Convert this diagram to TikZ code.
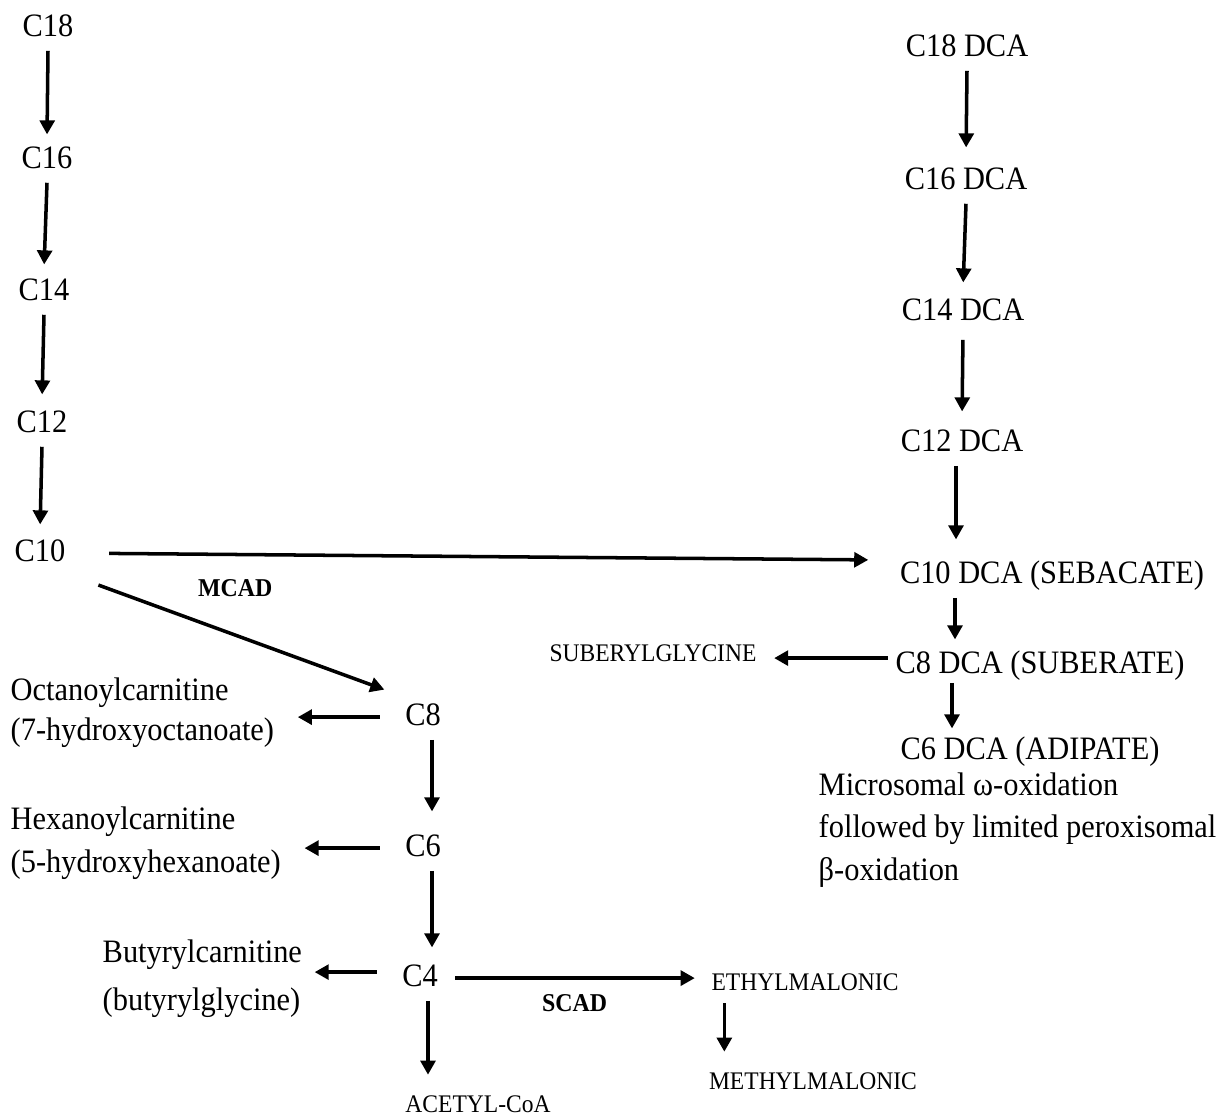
\documentclass[tikz,border=0pt]{standalone}
\usepackage{fontspec}
\setmainfont[FakeStretch=0.93]{Liberation Serif}
\usetikzlibrary{arrows.meta, calc}

\begin{document}
\begin{tikzpicture}[
    acid/.style={anchor=base, inner sep=2pt, text height=6.5pt, text depth=2pt, font=\fontsize{9.3}{11}\selectfont},
    product/.style={anchor=base, inner sep=2pt, text height=5pt, text depth=1.5pt, font=\fontsize{7.2}{8}\selectfont},
    enzyme/.style={inner sep=1pt, font=\fontsize{7.3}{8}\selectfont\bfseries},
    side/.style={anchor=north west, inner sep=2pt, align=left, font=\fontsize{9.3}{12}\selectfont},
    flow/.style={-{Triangle[length=4pt,width=4.2pt]}, line width=1pt}
  ]
  \useasboundingbox (0,0) rectangle (12.26,-11.19);

  \node[acid] (c18) at (0.48,-0.36) {C18};
  \node[acid] (c16) at (0.47,-1.68) {C16};
  \node[acid] (c14) at (0.44,-3.00) {C14};
  \node[acid] (c12) at (0.42,-4.32) {C12};
  \node[acid] (c10) at (0.40,-5.61) {C10};
  \node[acid] (c8) at (4.23,-7.25) {C8};
  \node[acid] (c6) at (4.23,-8.56) {C6};
  \node[acid] (c4) at (4.20,-9.86) {C4};

  \node[acid] (c18dca) at (9.67,-0.56) {C18 DCA};
  \node[acid] (c16dca) at (9.66,-1.89) {C16 DCA};
  \node[acid] (c14dca) at (9.63,-3.20) {C14 DCA};
  \node[acid] (c12dca) at (9.62,-4.51) {C12 DCA};
  \node[acid] (c10dca) at (10.52,-5.83) {C10 DCA (SEBACATE)};
  \node[acid] (c8dca) at (10.40,-6.73) {C8 DCA (SUBERATE)};
  \node[acid] (c6dca) at (10.30,-7.59) {C6 DCA (ADIPATE)};

  \node[product] (subgly) at (6.53,-6.61) {SUBERYLGLYCINE};
  \node[product] (ethyl) at (8.05,-9.90) {ETHYLMALONIC};
  \node[product] (meth) at (8.13,-10.89) {METHYLMALONIC};
  \node[product] (acetyl) at (4.78,-11.12) {ACETYL-CoA};

  \node[side, font=\fontsize{9.3}{11.4}\selectfont] (octa) at (0.03,-6.70) {Octanoylcarnitine\\(7-hydroxyoctanoate)};
  \node[side, font=\fontsize{9.3}{12.2}\selectfont] (hexa) at (0.03,-7.99) {Hexanoylcarnitine\\(5-hydroxyhexanoate)};
  \node[side, font=\fontsize{9.3}{13.7}\selectfont] (buty) at (0.95,-9.32) {Butyrylcarnitine\\(butyrylglycine)};
  \node[side, font=\fontsize{9.3}{12.1}\selectfont] (micro) at (8.11,-7.65) {Microsomal ω-oxidation\\followed by limited peroxisomal\\β-oxidation};

  \draw[flow, shorten >=0.03cm] (c18.south) -- (c16.north);
  \draw[flow, shorten >=0.05cm] (c16.south) -- (c14.north);
  \draw[flow, shorten >=0.07cm] (c14.south) -- (c12.north);
  \draw[flow, shorten >=0.06cm] (c12.south) -- (c10.north);

  \draw[flow, shorten <=0.36cm, shorten >=0.24cm] (c10.east) -- ([yshift=0.15cm]c10dca.west);
  \draw[flow, shorten <=0.27cm, shorten >=0.14cm] (c10.south east) -- (c8.north west)
    node[enzyme, midway, above=0.33cm] {MCAD};

  \draw[flow, shorten <=0.18cm, shorten >=0.16cm] (c8.west) -- (c8.west -| octa.east);
  \draw[flow, shorten <=0.18cm, shorten >=0.16cm] (c6.west) -- (c6.west -| hexa.east);
  \draw[flow, shorten <=0.18cm, shorten >=0.05cm] ([yshift=0.06cm]c4.west) -- ([yshift=0.06cm]c4.west -| buty.east);

  \draw[flow, shorten >=0.14cm] ($(c8.south)+(0.09,0)$) -- ($(c8.south |- c6.north)+(0.09,0)$);
  \draw[flow, shorten >=0.08cm] ($(c6.south)+(0.09,0)$) -- ($(c6.south |- c4.north)+(0.09,0)$);
  \draw[flow, shorten >=0.12cm] ($(c4.south)+(0.08,0)$) -- ($(c4.south |- acetyl.north)+(0.08,0)$);

  \draw[flow, shorten <=0.1cm, shorten >=0.09cm] (c4.east) -- (c4.east -| ethyl.west)
    node[enzyme, midway, below=0.115cm] {SCAD};
  \draw[flow, shorten >=0.12cm] ($(ethyl.south -| meth.west)+(0.23,0)$) -- ($(meth.north west)+(0.23,0)$);

  \draw[flow, shorten >=0.11cm] (c18dca.south) -- (c16dca.north);
  \draw[flow, shorten >=0.07cm] (c16dca.south) -- (c14dca.north);
  \draw[flow, shorten <=0.05cm, shorten >=0.09cm] (c14dca.south) -- (c12dca.north);
  \draw[flow, shorten >=0.13cm] ($(c12dca.south)+(-0.06,0)$) -- ($(c10dca.north -| c12dca.south)+(-0.06,0)$);
  \draw[flow, shorten >=0.03cm] ($(c10dca.south -| c12dca.south)+(-0.07,0)$) -- ($(c8dca.north -| c12dca.south)+(-0.07,0)$);
  \draw[flow, shorten <=-0.05cm] ($(c8dca.south -| c12dca.south)+(-0.10,0)$) -- ($(c6dca.north -| c12dca.south)+(-0.10,0)$);
  \draw[flow, shorten >=0.1cm] ($(c8dca.west)+(0,0.07)$) -- ($(c8dca.west -| subgly.east)+(0,0.07)$);
\end{tikzpicture}
\end{document}
